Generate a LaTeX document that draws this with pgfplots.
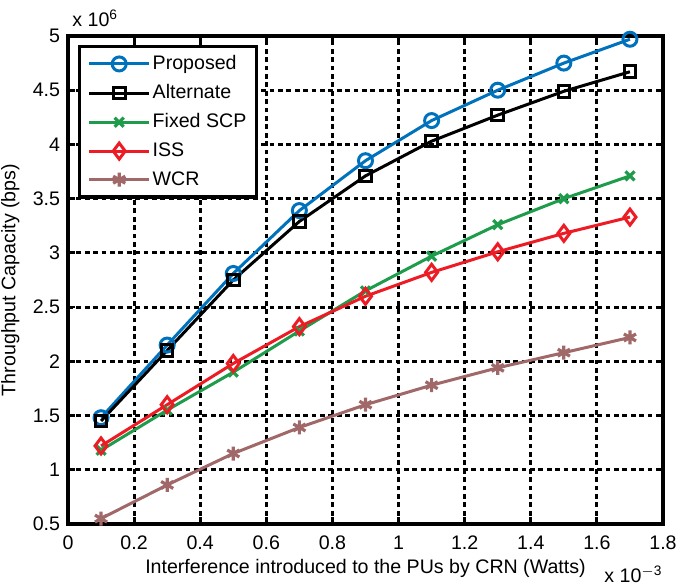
\documentclass[border=0pt]{standalone}
\usepackage{fontspec}
\setmainfont{Liberation Sans}
\usepackage{pgfplots}
\pgfplotsset{compat=1.18}
\definecolor{cblue}{RGB}{0,114,189}
\definecolor{cgreen}{RGB}{30,155,75}
\definecolor{cred}{RGB}{237,28,36}
\definecolor{cbrown}{RGB}{160,104,104}
\newcommand{\ff}{\fontsize{9.8}{11.5}\selectfont}
\begin{document}
\ff
\begin{tikzpicture}
\begin{axis}[
  scale only axis, width=297.5pt, height=244pt,
  xmin=0, xmax=1.8, ymin=0.5, ymax=5,
  xtick={0,0.2,0.4,0.6,0.8,1,1.2,1.4,1.6,1.8},
  ytick={0.5,1,1.5,2,2.5,3,3.5,4,4.5,5},
  tick align=inside, major tick length=3.5pt,
  tick style={line width=1.4pt, black},
  axis line style={line width=1.9pt},
  grid=major,
  major grid style={black, line width=1.5pt, dash pattern=on 2.4pt off 1.8pt},
  /pgf/number format/assume math mode=true,
  ticklabel style={font=\ff},
  xticklabel style={yshift=-2.5pt},
  yticklabel style={xshift=-0.5pt},
  xlabel={Interference introduced to the PUs by CRN (Watts)},
  ylabel={Throughput Capacity (bps)},
  xlabel style={font=\ff, yshift=2pt},
  ylabel style={font=\ff, yshift=0pt},
  legend style={at={(axis description cs:0.017,0.982)}, anchor=north west,
    draw=black, line width=1.6pt, inner xsep=4pt, inner ysep=3.5pt, row sep=4pt,
    nodes={inner sep=1pt, font=\ff}},
  legend cell align=left,
  legend image code/.code={\draw[mark repeat=2,mark phase=2] plot coordinates {(0pt,0pt)(15pt,0pt)(30pt,0pt)};},
  clip=false,
]
\addplot[cblue, line width=1.5pt, mark=o, mark size=3.5pt, mark options={line width=1.5pt, fill=white}] coordinates {
(0.1,1.48)(0.3,2.15)(0.5,2.81)(0.7,3.39)(0.9,3.85)(1.1,4.22)(1.3,4.50)(1.5,4.75)(1.7,4.97)};
\addlegendentry{Proposed}
\addplot[black, line width=1.5pt, mark=square, mark size=2.9pt, mark options={line width=1.5pt, fill=white}] coordinates {
(0.1,1.45)(0.3,2.10)(0.5,2.75)(0.7,3.29)(0.9,3.71)(1.1,4.03)(1.3,4.27)(1.5,4.49)(1.7,4.67)};
\addlegendentry{Alternate}
\addplot[cgreen, line width=1.5pt, mark=x, mark size=3.2pt, mark options={line width=1.6pt}] coordinates {
(0.1,1.18)(0.3,1.55)(0.5,1.90)(0.7,2.28)(0.9,2.65)(1.1,2.97)(1.3,3.26)(1.5,3.50)(1.7,3.71)};
\addlegendentry{Fixed SCP}
\addplot[cred, line width=1.5pt, mark=diamond, mark size=4pt, mark options={line width=1.5pt, fill=white}] coordinates {
(0.1,1.22)(0.3,1.60)(0.5,1.98)(0.7,2.32)(0.9,2.60)(1.1,2.82)(1.3,3.01)(1.5,3.18)(1.7,3.33)};
\addlegendentry{ISS}
\addplot[cbrown, line width=1.5pt, mark=asterisk, mark size=3.5pt, mark options={line width=1.6pt}] coordinates {
(0.1,0.55)(0.3,0.86)(0.5,1.15)(0.7,1.39)(0.9,1.60)(1.1,1.78)(1.3,1.94)(1.5,2.08)(1.7,2.22)};
\addlegendentry{WCR}
\node[anchor=base west, inner sep=0pt] at (rel axis cs:0,1) [yshift=4.5pt, xshift=2pt] {x 10$^{\mathrm{6}}$};
\node[anchor=base east, inner sep=0pt] at (rel axis cs:1,0) [yshift=-29.5pt, xshift=0pt] {x 10$^{\mathrm{-3}}$};
\end{axis}
\pgfresetboundingbox
\path ([shift={(-34pt,-31pt)}]current axis.south west) rectangle ([shift={(8pt,18pt)}]current axis.north east);
\end{tikzpicture}
\end{document}
